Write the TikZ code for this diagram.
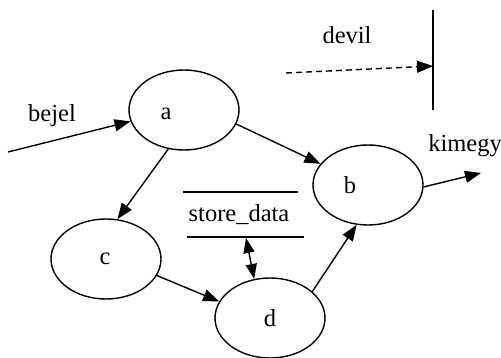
\documentclass[tikz,border=0pt]{standalone}
\usepackage{fontspec}
\setmainfont{Liberation Serif}
\usetikzlibrary{shapes.geometric,arrows.meta}
\begin{document}
\begin{tikzpicture}[x=1pt,y=-1pt,
  proc/.style={draw,ellipse,line width=1.4pt,minimum width=110pt,minimum height=80pt,inner sep=0pt},
  txt/.style={inner sep=0pt,font=\fontsize{24.5}{28}\selectfont},
  conn/.style={line width=1.4pt,-{Triangle[length=16pt,width=12pt]}},
  dconn/.style={line width=1.4pt,{Triangle[length=15pt,width=11pt]}-{Triangle[length=15pt,width=11pt]}},
  bar/.style={line width=1.5pt}]
\useasboundingbox (0,0) rectangle (501,358);
% processes
\node[proc] (a) at (184,110) {};
\node[proc] (b) at (368,185) {};
\node[proc] (c) at (106,259) {};
\node[proc] (d) at (270,318) {};
\node[txt] (ta) at (166,114) {a};
\node[txt] (tb) at (350,185) {b};
\node[txt] (tc) at (105,259) {c};
\node[txt] (td) at (270,318) {d};
% store
\coordinate (s1) at (183,192);
\coordinate (s2) at (298,192);
\coordinate (s3) at (187,237);
\coordinate (s4) at (304,237);
\draw[bar] (s1) -- (s2);
\draw[bar] (s3) -- (s4);
\node[txt] (st) at (239,215) {store\_data};
\coordinate (sa) at (246,238);
\draw[dconn] (sa) -- (d.112);
% terminator
\coordinate (t1) at (433,10);
\coordinate (t2) at (433,110);
\draw[bar] (t1) -- (t2);
\coordinate (dv0) at (286,73);
\coordinate (dv1) at (433,66);
\draw[conn,dashed,dash pattern=on 6pt off 4pt] (dv0) -- (dv1);
\node[txt] (ldevil) at (347,35) {devil};
% flows
\coordinate (in0) at (8,152);
\draw[conn] (in0) -- (a.192);
\node[txt] (lbejel) at (52,116) {bejel};
\draw[conn] (a.-15) -- (b.156);
\draw[conn] (a.-112) -- (c.74);
\draw[conn] (c.-18) -- (d.162);
\draw[conn] (d.32) -- (b.-106);
\coordinate (out1) at (481,173);
\draw[conn] (b.-2) -- (out1);
\node[txt] (lkimegy) at (465,146) {kimegy};
\end{tikzpicture}
\end{document}
